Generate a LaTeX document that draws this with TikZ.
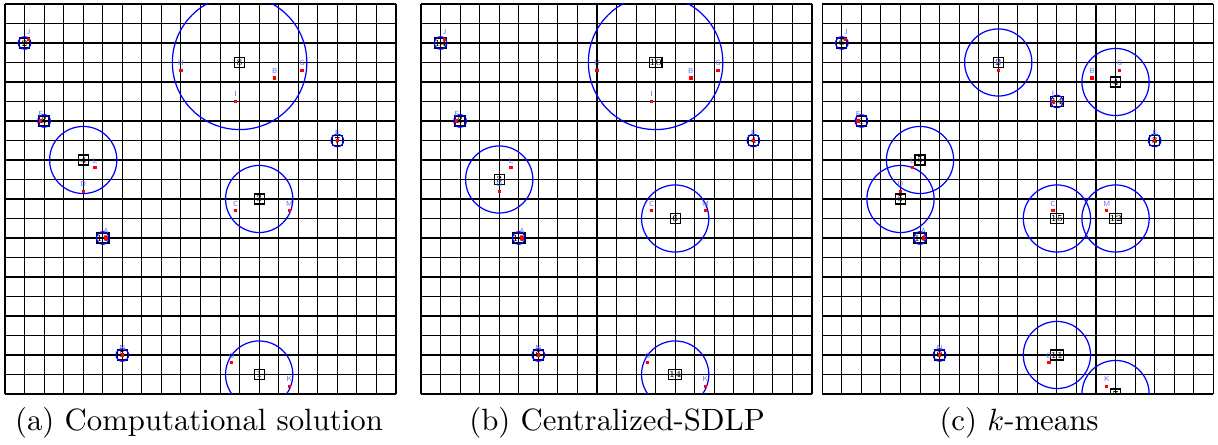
\documentclass[tikz,border=0pt]{standalone}
\usetikzlibrary{calc}
\begin{document}
\begin{tikzpicture}[x=0.325pt,y=-0.325pt,
  gridline/.style={black,line width=0.35pt},
  cov/.style={blue,line width=0.4pt},
  facbox/.style={draw=black,line width=0.4pt,minimum size=3.25pt,inner sep=0pt,font=\fontsize{3}{3}\selectfont},
  dem/.style={fill=red,minimum size=1.1pt,inner sep=0pt},
  dlab/.style={text=blue!60,inner sep=0pt,font=\sffamily\fontsize{2.4}{2.4}\selectfont},
  captext/.style={anchor=base,inner sep=0pt,font=\normalsize}]
\useasboundingbox (0,0) rectangle (1218,445);
\newcommand\facil[5]{\node[facbox] (#1) at (#2,#3) {#4};\draw[cov] (#1.center) circle[radius=#5];}
\newcommand\dpt[4]{\node[dem] (#1#2) at (#3,#4) {};\node[dlab] (#1#2l) at (#3,{#4-0.37}) {#2};}
\newcommand\gridpanel{\foreach \i in {0,...,20}{\draw[gridline] (\i,0) -- (\i,20);\draw[gridline] (0,\i) -- (20,\i);}}
\newcommand\demands[1]{%
  \dpt{#1}{J}{1.2}{1.82}\dpt{#1}{F}{1.83}{6}\dpt{#1}{L}{4.6}{8.4}\dpt{#1}{D}{4}{9.6}%
  \dpt{#1}{H}{9}{3.4}\dpt{#1}{B}{13.8}{3.8}\dpt{#1}{G}{15.2}{3.4}\dpt{#1}{I}{11.8}{5}%
  \dpt{#1}{E}{17}{7}\dpt{#1}{C}{11.8}{10.6}\dpt{#1}{M}{14.55}{10.6}\dpt{#1}{O}{11.6}{18.4}%
  \dpt{#1}{K}{14.55}{19.6}\dpt{#1}{A}{5.17}{12}\dpt{#1}{N}{6}{18}}
% panel (a)
\begin{scope}[shift={(5,4)},x=6.354pt,y=-6.3375pt]
  \gridpanel
  \begin{scope}
  \clip (0,0) rectangle (20,20);
  \facil{a1}{1}{2}{2}{0.32}
  \facil{a2}{2}{6}{8}{0.32}
  \facil{a3}{4}{8}{4}{1.72}
  \facil{a4}{12}{3}{8}{3.44}
  \facil{a5}{17}{7}{7}{0.32}
  \facil{a6}{13}{10}{3}{1.72}
  \facil{a7}{13}{19}{1}{1.72}
  \facil{a8}{5}{12}{11}{0.32}
  \facil{a9}{6}{18}{5}{0.32}
  \demands{a}
  \end{scope}
\end{scope}
% panel (b)
\begin{scope}[shift={(421,4)},x=6.354pt,y=-6.3375pt]
  \gridpanel
  \begin{scope}
  \clip (0,0) rectangle (20,20);
  \facil{b1}{1}{2}{14}{0.32}
  \facil{b2}{2}{6}{8}{0.32}
  \facil{b3}{4}{9}{3}{1.72}
  \facil{b4}{12}{3}{10}{3.44}
  \facil{b5}{17}{7}{4}{0.32}
  \facil{b6}{13}{11}{6}{1.72}
  \facil{b7}{13}{19}{14}{1.72}
  \facil{b8}{5}{12}{11}{0.32}
  \facil{b9}{6}{18}{6}{0.32}
  \demands{b}
  \end{scope}
\end{scope}
% panel (c)
\begin{scope}[shift={(822.3,4)},x=6.354pt,y=-6.3375pt]
  \gridpanel
  \begin{scope}
  \clip (0,0) rectangle (20,20);
  \facil{c1}{1}{2}{6}{0.32}
  \facil{c2}{2}{6}{1}{0.32}
  \facil{c3}{9}{3}{2}{1.72}
  \facil{c4}{5}{8}{5}{1.72}
  \facil{c5}{4}{10}{5}{1.72}
  \facil{c6}{12}{5}{14}{0.32}
  \facil{c7}{15}{4}{4}{1.72}
  \facil{c8}{17}{7}{3}{0.32}
  \facil{c9}{12}{11}{15}{1.72}
  \facil{c10}{15}{11}{12}{1.72}
  \facil{c11}{12}{18}{11}{1.72}
  \facil{c12}{15}{20}{7}{1.72}
  \facil{c13}{5}{12}{14}{0.32}
  \facil{c14}{6}{18}{9}{0.32}
  \demands{c}
  \end{scope}
\end{scope}
\node[captext] (capa) at (199,431) {(a) Computational solution};
\node[captext] (capb) at (617,431) {(b) Centralized-SDLP};
\node[captext] (capc) at (1019,431) {(c) $k$-means};
\end{tikzpicture}
\end{document}
